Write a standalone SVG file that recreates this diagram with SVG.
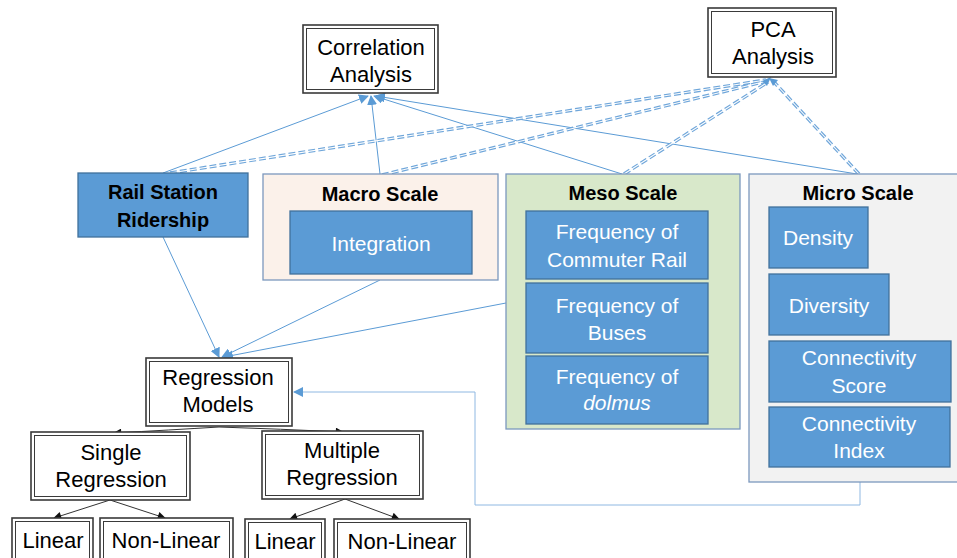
<svg xmlns="http://www.w3.org/2000/svg" width="957" height="558" viewBox="0 0 957 558">
<style>
text{font-family:"Liberation Sans",Arial,sans-serif;text-anchor:middle}
.t{font-size:22px;fill:#000}
.w{font-size:21px;fill:#fff}
.b{font-size:20px;font-weight:bold;fill:#000}
.o{fill:#fff;stroke:#3a3a3a;stroke-width:1.6}
.i{fill:none;stroke:#3a3a3a;stroke-width:1}
.blue{fill:#5B9BD5;stroke:#41719C;stroke-width:1.3}
.cont{stroke:#7C98BE;stroke-width:1.3}
.c{fill:none;stroke:#5B9BD5;stroke-width:1}
.d{fill:none;stroke:#6FA6DA;stroke-width:3.4;stroke-dasharray:7 3}
.dw{fill:none;stroke:#fff;stroke-width:1.1}
.k{fill:none;stroke:#333;stroke-width:1}
</style>
<defs>
<marker id="ab" viewBox="0 0 10 10" refX="9" refY="5" markerWidth="10" markerHeight="10" markerUnits="userSpaceOnUse" orient="auto"><path d="M0,0 L10,5 L0,10 z" fill="#5B9BD5"/></marker>
<marker id="ak" viewBox="0 0 10 10" refX="9" refY="5" markerWidth="9" markerHeight="8" markerUnits="userSpaceOnUse" orient="auto"><path d="M0,0 L10,5 L0,10 z" fill="#111"/></marker>
</defs>

<g id="connectors">
<line class="c" x1="163" y1="173" x2="368" y2="96" marker-end="url(#ab)"/>
<line class="c" x1="380" y1="174" x2="371" y2="96" marker-end="url(#ab)"/>
<line class="c" x1="622" y1="174" x2="374" y2="96" marker-end="url(#ab)"/>
<line class="c" x1="857" y1="174" x2="376" y2="96" marker-end="url(#ab)"/>
<g>
<line class="d" x1="170" y1="173" x2="766" y2="80"/>
<line class="d" x1="382" y1="175" x2="767" y2="81"/>
<line class="d" x1="624" y1="174" x2="768" y2="82"/>
<line class="d" x1="859" y1="174" x2="774" y2="82"/>
<line class="dw" x1="170" y1="173" x2="766" y2="80"/>
<line class="dw" x1="382" y1="175" x2="767" y2="81"/>
<line class="dw" x1="624" y1="174" x2="768" y2="82"/>
<line class="dw" x1="859" y1="174" x2="774" y2="82"/>
<path d="M762,81 L771,77 L767,86 z" fill="#5B9BD5"/>
<path d="M769,78 L778,80 L773,86 z" fill="#5B9BD5"/>
</g>
<line class="c" x1="163" y1="237" x2="219" y2="357" marker-end="url(#ab)"/>
<line class="c" x1="380" y1="280" x2="222" y2="357" marker-end="url(#ab)"/>
<line class="c" x1="506" y1="303" x2="224" y2="357" marker-end="url(#ab)"/>
<polyline class="c" stroke="#8FB8E2" style="stroke:#8FB8E2" points="860,482 860,505 475,505 475,392 294,392" marker-end="url(#ab)"/>
<path class="k" d="M219,427 Q170,430 114,433" marker-end="url(#ak)"/>
<path class="k" d="M219,427 Q280,429 343,432" marker-end="url(#ak)"/>
<line class="k" x1="110" y1="500" x2="54" y2="518" marker-end="url(#ak)"/>
<line class="k" x1="110" y1="500" x2="165" y2="518" marker-end="url(#ak)"/>
<line class="k" x1="345" y1="499" x2="290" y2="519" marker-end="url(#ak)"/>
<line class="k" x1="345" y1="499" x2="399" y2="519" marker-end="url(#ak)"/>
</g>

<g id="correlation">
<rect class="o" x="303" y="25" width="135" height="68"/>
<rect class="i" x="306.5" y="28.5" width="128" height="61"/>
<text class="t" x="371" y="55">Correlation</text>
<text class="t" x="371" y="82">Analysis</text>
</g>
<g id="pca">
<rect class="o" x="708" y="8" width="128" height="69"/>
<rect class="i" x="711.5" y="11.5" width="121" height="62"/>
<text class="t" x="773" y="37">PCA</text>
<text class="t" x="773" y="64">Analysis</text>
</g>

<g id="rail">
<rect class="blue" x="78" y="173" width="170" height="64"/>
<text class="b" x="163" y="199">Rail Station</text>
<text class="b" x="163" y="227">Ridership</text>
</g>

<g id="macro">
<rect class="cont" x="263" y="174" width="235" height="106" fill="#FBF1EA"/>
<text class="b" x="380" y="201">Macro Scale</text>
<g id="integration">
<rect class="blue" x="290" y="211" width="182" height="63"/>
<text class="w" x="381" y="251" font-size="22">Integration</text>
</g>
</g>

<g id="meso">
<rect class="cont" x="506" y="174" width="234" height="255" fill="#D8E8CA"/>
<text class="b" x="623" y="200">Meso Scale</text>
<g id="freq-rail">
<rect class="blue" x="526" y="211" width="182" height="68"/>
<text class="w" x="617" y="239">Frequency of</text>
<text class="w" x="617" y="267">Commuter Rail</text>
</g>
<g id="freq-bus">
<rect class="blue" x="526" y="283" width="182" height="70"/>
<text class="w" x="617" y="313">Frequency of</text>
<text class="w" x="617" y="340">Buses</text>
</g>
<g id="freq-dolmus">
<rect class="blue" x="526" y="356" width="182" height="68"/>
<text class="w" x="617" y="384">Frequency of</text>
<text class="w" x="617" y="410" font-style="italic">dolmus</text>
</g>
</g>

<g id="micro">
<rect class="cont" x="749" y="174" width="212" height="308" fill="#F2F2F2"/>
<text class="b" x="858" y="200">Micro Scale</text>
<g id="density">
<rect class="blue" x="769" y="207" width="99" height="61"/>
<text class="w" x="818" y="245">Density</text>
</g>
<g id="diversity">
<rect class="blue" x="769" y="274" width="120" height="61"/>
<text class="w" x="829" y="313">Diversity</text>
</g>
<g id="conn-score">
<rect class="blue" x="769" y="341" width="182" height="61"/>
<text class="w" x="859" y="365">Connectivity</text>
<text class="w" x="859" y="393">Score</text>
</g>
<g id="conn-index">
<rect class="blue" x="769" y="407" width="181" height="60"/>
<text class="w" x="859" y="431">Connectivity</text>
<text class="w" x="859" y="458">Index</text>
</g>
</g>

<g id="regression">
<rect class="o" x="146" y="358" width="146" height="68"/>
<rect class="i" x="149.5" y="361.5" width="139" height="61"/>
<text class="t" x="218" y="385">Regression</text>
<text class="t" x="218" y="412">Models</text>
</g>
<g id="single">
<rect class="o" x="31" y="432" width="159" height="68"/>
<rect class="i" x="34.5" y="435.5" width="152" height="61"/>
<text class="t" x="111" y="460">Single</text>
<text class="t" x="111" y="487">Regression</text>
</g>
<g id="multiple">
<rect class="o" x="262" y="431" width="161" height="68"/>
<rect class="i" x="265.5" y="434.5" width="154" height="61"/>
<text class="t" x="342" y="458">Multiple</text>
<text class="t" x="342" y="485">Regression</text>
</g>
<g id="linear1">
<rect class="o" x="12" y="518" width="81" height="45"/>
<rect class="i" x="15.5" y="521.5" width="74" height="40"/>
<text class="t" x="53" y="548">Linear</text>
</g>
<g id="nonlinear1">
<rect class="o" x="100" y="518" width="133" height="45"/>
<rect class="i" x="103.5" y="521.5" width="126" height="40"/>
<text class="t" x="166" y="548">Non-Linear</text>
</g>
<g id="linear2">
<rect class="o" x="245" y="519" width="80" height="45"/>
<rect class="i" x="248.5" y="522.5" width="73" height="40"/>
<text class="t" x="285" y="549">Linear</text>
</g>
<g id="nonlinear2">
<rect class="o" x="334" y="519" width="136" height="45"/>
<rect class="i" x="337.5" y="522.5" width="129" height="40"/>
<text class="t" x="402" y="549">Non-Linear</text>
</g>
</svg>
